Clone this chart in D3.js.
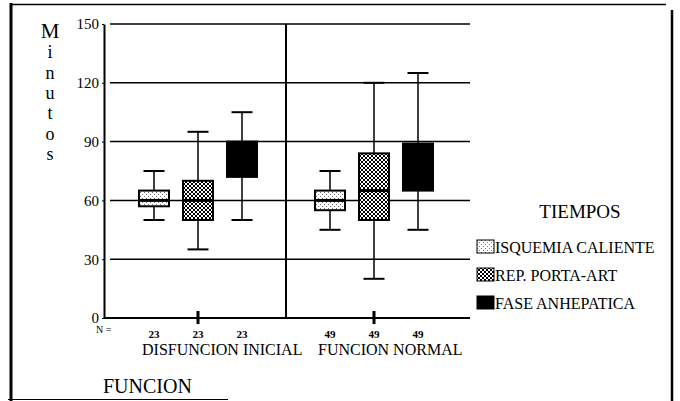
<!DOCTYPE html>
<html><head><meta charset="utf-8">
<script src="https://cdn.jsdelivr.net/npm/d3@7"></script>
</head><body style="margin:0">
<svg id="c" width="680" height="401"></svg>
<script>
const groups = ["DISFUNCION INICIAL", "FUNCION NORMAL"];
const series = ["ISQUEMIA CALIENTE", "REP. PORTA-ART", "FASE ANHEPATICA"];
const counts = [23, 23, 23, 49, 49, 49];
const whiskerLow = [50, 35, 50, 45, 20, 45];
const q1 = [57, 50, 72, 55, 50, 65];
const median = [60, 60, 80, 60, 65, 75];
const q3 = [65, 70, 90, 65, 84, 89];
const whiskerHigh = [75, 95, 105, 75, 120, 125];
const yTicks = [0, 30, 60, 90, 120, 150];
const yTitle = "Minutos";
const legendTitle = "TIEMPOS";
const xTitle = "FUNCION";

const rows = [];
groups.forEach((g, gi) => series.forEach((s, si) => {
  const k = gi * series.length + si;
  rows.push({g, s, n: counts[k], lo: whiskerLow[k], q1: q1[k], med: median[k], q3: q3[k], hi: whiskerHigh[k]});
}));

const svg = d3.select("#c");
const defs = svg.append("defs");
const p1 = defs.append("pattern").attr("id", "pIsq").attr("patternUnits", "userSpaceOnUse").attr("width", 4).attr("height", 4);
p1.append("rect").attr("width", 4).attr("height", 4).attr("fill", "#fff");
p1.append("rect").attr("x", 0).attr("y", 0).attr("width", 1).attr("height", 1).attr("fill", "#777");
p1.append("rect").attr("x", 2).attr("y", 2).attr("width", 1).attr("height", 1).attr("fill", "#777");
const p2 = defs.append("pattern").attr("id", "pRep").attr("patternUnits", "userSpaceOnUse").attr("width", 4).attr("height", 4);
p2.append("rect").attr("width", 4).attr("height", 4).attr("fill", "#fff");
p2.append("path").attr("d", "M-1,1 L1,-1 M0,4 L4,0 M3,5 L5,3 M-1,3 L1,5 M0,0 L4,4 M3,-1 L5,1").attr("stroke", "#000").attr("stroke-width", 1);
const fills = d3.scaleOrdinal().domain(series).range(["url(#pIsq)", "url(#pRep)", "#000"]);

const y = d3.scaleLinear().domain([0, 150]).range([318, 24]);
const x0 = d3.scaleBand().domain(groups).range([110, 462]);
const x1 = d3.scaleBand().domain(series).range([22, 154]);
const cx = d => x0(d.g) + x1(d.s) + x1.bandwidth() / 2;
const bw = 30, capW = 21;

svg.append("line").attr("x1", 11).attr("x2", 11).attr("y1", 3).attr("y2", 401).attr("stroke", "#000").attr("stroke-width", 3);
svg.append("line").attr("x1", 10).attr("x2", 666).attr("y1", 4.5).attr("y2", 4.5).attr("stroke", "#000").attr("stroke-width", 1.5);
svg.append("line").attr("x1", 672).attr("x2", 672).attr("y1", 10).attr("y2", 401).attr("stroke", "#000").attr("stroke-width", 2.5);
svg.append("line").attr("x1", 8).attr("x2", 228).attr("y1", 399.5).attr("y2", 399.5).attr("stroke", "#000").attr("stroke-width", 1.2);

svg.append("g").selectAll("line").data(yTicks.filter(v => v > 0)).join("line")
  .attr("x1", 110).attr("x2", 470).attr("y1", d => y(d)).attr("y2", d => y(d))
  .attr("stroke", "#000").attr("stroke-width", 1.5);

svg.append("line").attr("x1", x0(groups[1])).attr("x2", x0(groups[1])).attr("y1", y(150)).attr("y2", y(0))
  .attr("stroke", "#000").attr("stroke-width", 2);

const ya = svg.append("g").attr("transform", "translate(104,0)")
  .call(d3.axisLeft(y).tickValues(yTicks).tickSizeInner(2).tickSizeOuter(0).tickPadding(3));
ya.attr("font-family", null).attr("font-size", null);
ya.select(".domain").attr("stroke-width", 2);
ya.selectAll("text").attr("font-family", d => "Liberation Serif").attr("font-size", 15).attr("fill", "#000");

const xa = svg.append("g").attr("transform", `translate(0,${y(0)})`)
  .call(d3.axisBottom(x0).tickSize(0).tickFormat(""));
xa.select(".domain").attr("d", "M104,0H470").attr("stroke-width", 2);
svg.append("g").selectAll("line").data(groups).join("line")
  .attr("x1", g => x0(g) + x0.bandwidth() / 2).attr("x2", g => x0(g) + x0.bandwidth() / 2)
  .attr("y1", y(0) - 7).attr("y2", y(0) + 6).attr("stroke", "#000").attr("stroke-width", 3);

const b = svg.append("g").selectAll("g").data(rows).join("g");
b.append("line").attr("x1", cx).attr("x2", cx).attr("y1", d => y(d.hi)).attr("y2", d => y(d.lo))
  .attr("stroke", "#000").attr("stroke-width", 1.5);
b.append("line").attr("x1", d => cx(d) - capW / 2).attr("x2", d => cx(d) + capW / 2)
  .attr("y1", d => y(d.hi)).attr("y2", d => y(d.hi)).attr("stroke", "#000").attr("stroke-width", 2);
b.append("line").attr("x1", d => cx(d) - capW / 2).attr("x2", d => cx(d) + capW / 2)
  .attr("y1", d => y(d.lo)).attr("y2", d => y(d.lo)).attr("stroke", "#000").attr("stroke-width", 2);
b.append("rect").attr("x", d => cx(d) - bw / 2).attr("width", bw)
  .attr("y", d => y(d.q3)).attr("height", d => y(d.q1) - y(d.q3))
  .attr("fill", d => fills(d.s)).attr("stroke", "#000").attr("stroke-width", 2);
b.append("line").attr("x1", d => cx(d) - bw / 2).attr("x2", d => cx(d) + bw / 2)
  .attr("y1", d => y(d.med)).attr("y2", d => y(d.med)).attr("stroke", "#000").attr("stroke-width", 3);

const T = sel => sel.attr("font-family", d => "Liberation Serif").style("font-family", "'Liberation Serif', Tinos, serif");

svg.append("text").attr("x", 96).attr("y", 333).attr("font-size", 10).call(T).text("N =");
svg.append("g").selectAll("text").data(rows).join("text")
  .attr("x", cx).attr("y", 338).attr("text-anchor", "middle").attr("font-size", 11).attr("font-weight", "bold")
  .call(T).text(d => d.n);

svg.append("g").selectAll("text").data(groups).join("text")
  .attr("x", g => x0(g) + 32).attr("y", 355).attr("font-size", 16).call(T).text(g => g);

svg.append("text").attr("x", 103).attr("y", 393).attr("font-size", 20).call(T).text(xTitle);

svg.append("g").selectAll("text").data(yTitle.split("")).join("text")
  .attr("x", 50).attr("y", (d, i) => 38 + i * 20.3).attr("text-anchor", "middle")
  .attr("font-size", (d, i) => i === 0 ? 21 : 18).call(T).text(d => d);

svg.append("text").attr("x", 580).attr("y", 218).attr("text-anchor", "middle").attr("font-size", 19).call(T).text(legendTitle);
const lg = svg.append("g").selectAll("g").data(series).join("g")
  .attr("transform", (d, i) => `translate(477,${240 + i * 28})`);
lg.append("rect").attr("width", 17).attr("height", 13).attr("fill", d => fills(d)).attr("stroke", "#000").attr("stroke-width", 1);
lg.append("text").attr("x", 18).attr("y", 13).attr("font-size", 16).call(T).text(d => d);
</script>
</body></html>
